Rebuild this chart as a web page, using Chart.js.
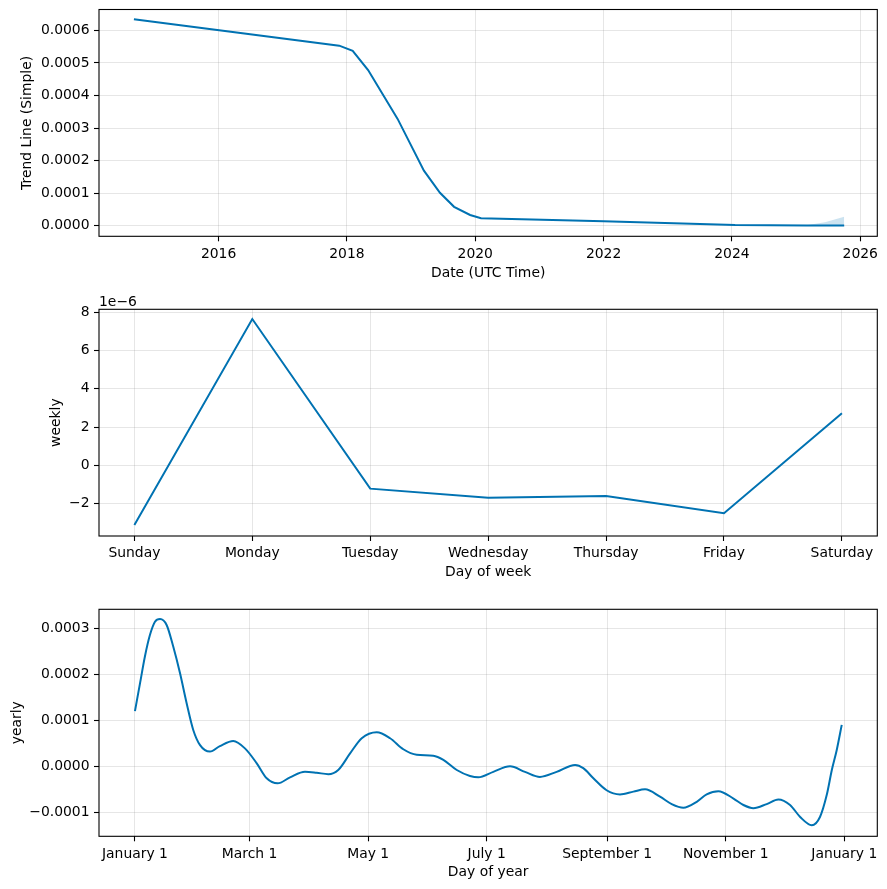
<!DOCTYPE html>
<html><head><meta charset="utf-8">
<script src="https://cdn.jsdelivr.net/npm/chart.js@4"></script>
<style>
html,body{margin:0;padding:0;background:#fff;}
#wrap{position:relative;width:887px;height:889px;overflow:hidden;}
canvas{position:absolute;left:0;}
</style></head><body>
<div id="wrap">
<canvas id="c1" width="887" height="296" style="top:0px"></canvas>
<canvas id="c2" width="887" height="296" style="top:296px"></canvas>
<canvas id="c3" width="887" height="297" style="top:592px"></canvas>
</div>
<script>
// ---- Panel 1: trend ----
const trendYears  = [2014.68, 2017.88, 2018.09, 2018.33, 2018.79, 2019.20, 2019.45, 2019.67, 2019.92, 2020.09, 2022.00, 2024.05, 2025.16, 2025.45, 2025.75];
const trendValues = [0.000634, 0.000553, 0.000537, 0.000478, 0.000328, 0.000169, 0.000101, 0.000058, 0.000033, 0.0000227, 0.0000135, 0.0000020, 0.0000010, 0.0000008, 0.0000008];
const trendUpper  = [0.000634, 0.000553, 0.000537, 0.000478, 0.000328, 0.000169, 0.000101, 0.000058, 0.000033, 0.0000230, 0.0000145, 0.0000026, 0.0000016, 0.0000110, 0.0000276];
const trendLower  = [0.000634, 0.000553, 0.000537, 0.000478, 0.000328, 0.000169, 0.000101, 0.000058, 0.000033, 0.0000224, 0.0000125, 0.0000014, 0.0000004, -0.0000005, -0.0000010];
const trendXTicks = [2016, 2018, 2020, 2022, 2024, 2026];
const trendYTicks = [0, 0.0001, 0.0002, 0.0003, 0.0004, 0.0005, 0.0006];

// ---- Panel 2: weekly ----
const weekDays     = ['Sunday', 'Monday', 'Tuesday', 'Wednesday', 'Thursday', 'Friday', 'Saturday'];
const weeklyValues = [-3.12e-6, 7.65e-6, -1.22e-6, -1.69e-6, -1.60e-6, -2.51e-6, 2.72e-6];
const weeklyYTicks = [-2e-6, 0, 2e-6, 4e-6, 6e-6, 8e-6];

// ---- Panel 3: yearly ----
const yearDays = [0, 2.6, 5.1, 7.7, 10.3, 12.9, 16.3, 19.7, 23.2, 26.6,
  30, 33.5, 38.6, 43.7, 50.6, 56.6, 62.6, 67.8, 73.4, 79.8,
  87.5, 93.5, 99.5, 104.6, 110.7, 116.7, 124.4, 131.3, 138.1, 145,
  153.5, 158.7, 165.6, 172.4, 176.7, 184.4, 193, 200.7, 208.4, 217,
  226.5, 230.7, 235.9, 242.7, 249.6, 256.5, 262.5, 270.2, 276.2, 282.2,
  289.1, 294.2, 300.2, 308, 313.1, 318.2, 325.1, 331.1, 337.1, 342.3,
  348.3, 352.5, 356, 358.6, 361.1, 363.7];
const yearlyValues = [1.20e-4, 1.80e-4, 2.38e-4, 2.85e-4, 3.14e-4, 3.20e-4, 3.07e-4, 2.60e-4, 2.02e-4, 1.37e-4,
  0.79e-4, 0.46e-4, 0.32e-4, 0.44e-4, 0.55e-4, 0.39e-4, 0.07e-4, -0.26e-4, -0.37e-4, -0.24e-4,
  -0.12e-4, -0.14e-4, -0.17e-4, -0.08e-4, 0.28e-4, 0.61e-4, 0.74e-4, 0.61e-4, 0.37e-4, 0.25e-4,
  0.23e-4, 0.14e-4, -0.08e-4, -0.21e-4, -0.24e-4, -0.12e-4, 0.00e-4, -0.12e-4, -0.23e-4, -0.12e-4,
  0.03e-4, -0.04e-4, -0.26e-4, -0.52e-4, -0.61e-4, -0.55e-4, -0.50e-4, -0.66e-4, -0.82e-4, -0.90e-4,
  -0.77e-4, -0.61e-4, -0.54e-4, -0.70e-4, -0.84e-4, -0.91e-4, -0.82e-4, -0.72e-4, -0.84e-4, -1.10e-4,
  -1.28e-4, -1.10e-4, -0.62e-4, -0.08e-4, 0.35e-4, 0.90e-4];
const yearXTicks  = [0, 59, 120, 181, 243, 304, 365];
const yearXLabels = ['January 1', 'March 1', 'May 1', 'July 1', 'September 1', 'November 1', 'January 1'];
const yearlyYTicks = [-0.0001, 0, 0.0001, 0.0002, 0.0003];

const BLUE = '#0072B2';
const FONT = {family: "'DejaVu Sans', sans-serif", size: 13.9};
const minus = s => s.replace('-', '\u2212');

const framePlugin = {
  id: 'frame',
  afterDraw(chart, args, opts) {
    const {ctx, chartArea: a} = chart;
    ctx.save();
    ctx.strokeStyle = '#000';
    ctx.lineWidth = 1.1;
    ctx.strokeRect(a.left, a.top, a.right - a.left, a.bottom - a.top);
    if (opts && opts.offsetText) {
      ctx.fillStyle = '#000';
      ctx.font = "13.9px 'DejaVu Sans', sans-serif";
      ctx.textAlign = 'left';
      ctx.textBaseline = 'alphabetic';
      ctx.fillText(opts.offsetText, a.left, a.top - 3);
    }
    ctx.restore();
  }
};

function makeChart(id, p) {
  return new Chart(document.getElementById(id), {
    type: 'line',
    data: {datasets: p.datasets},
    plugins: [framePlugin],
    options: {
      responsive: false,
      animation: false,
      devicePixelRatio: 1,
      layout: {padding: {top: p.top, right: 9.7, left: 0, bottom: 0}},
      plugins: {legend: {display: false}, tooltip: {enabled: false}, frame: {offsetText: p.offsetText}},
      elements: {point: {radius: 0}},
      scales: {
        x: {
          type: 'linear', min: p.xMin, max: p.xMax,
          afterBuildTicks: s => { s.ticks = p.xTicks.map(v => ({value: v})); },
          afterFit: s => { s.height = p.xAxisH; s.paddingLeft = 0; s.paddingRight = 0; },
          grid: {color: 'rgba(128,128,128,0.2)', lineWidth: 1, tickColor: '#000', tickLength: 5, tickWidth: 1.1},
          border: {display: false},
          ticks: {font: FONT, color: '#000', padding: 4.5, maxRotation: 0, autoSkip: false, callback: p.xLabel},
          title: {display: true, text: p.xTitle, font: FONT, color: '#000', padding: {top: 0, bottom: p.xTitlePad}}
        },
        y: {
          type: 'linear', min: p.yMin, max: p.yMax,
          afterBuildTicks: s => { s.ticks = p.yTicks.map(v => ({value: v})); },
          afterFit: s => { s.width = 99; s.paddingTop = 0; s.paddingBottom = 0; },
          grid: {color: 'rgba(128,128,128,0.2)', lineWidth: 1, tickColor: '#000', tickLength: 5, tickWidth: 1.1},
          border: {display: false},
          ticks: {font: FONT, color: '#000', padding: 4.5, autoSkip: false, callback: p.yLabel},
          title: {display: true, text: p.yTitle, font: FONT, color: '#000', padding: {top: p.yTitlePad, bottom: 0}}
        }
      }
    }
  });
}

// Panel 1
makeChart('c1', {
  top: 9.5, xAxisH: 59.7,
  xMin: 2014.136, xMax: 2026.266, yMin: -0.0000325, yMax: 0.000664,
  xTicks: trendXTicks, yTicks: trendYTicks,
  xLabel: v => String(v), yLabel: v => minus(v.toFixed(4)),
  xTitle: 'Date (UTC Time)', xTitlePad: 14.5, yTitle: 'Trend Line (Simple)', yTitlePad: 19.4,
  datasets: [
    {data: trendYears.map((x, i) => ({x, y: trendValues[i]})), borderColor: BLUE, borderWidth: 2, fill: false, tension: 0},
    {data: trendYears.map((x, i) => ({x, y: trendUpper[i]})), borderWidth: 0, borderColor: 'rgba(0,0,0,0)', backgroundColor: 'rgba(0,114,178,0.2)', fill: '+1', tension: 0},
    {data: trendYears.map((x, i) => ({x, y: trendLower[i]})), borderWidth: 0, borderColor: 'rgba(0,0,0,0)', fill: false, tension: 0}
  ]
});

// Panel 2
makeChart('c2', {
  top: 13.3, xAxisH: 56,
  xMin: -0.3, xMax: 6.3, yMin: -3.696e-6, yMax: 8.157e-6,
  xTicks: weekDays.map((d, i) => i), yTicks: weeklyYTicks,
  xLabel: v => weekDays[Math.round(v)], yLabel: v => minus(String(Math.round(v * 1e6))),
  xTitle: 'Day of week', xTitlePad: 11.5, yTitle: 'weekly', yTitlePad: 47.7,
  offsetText: '1e\u22126',
  datasets: [
    {data: weekDays.map((d, i) => ({x: i, y: weeklyValues[i]})), borderColor: BLUE, borderWidth: 2, fill: false, tension: 0}
  ]
});

// Panel 3
makeChart('c3', {
  top: 17.3, xAxisH: 52.7,
  xMin: -18.5, xMax: 382, yMin: -0.000152, yMax: 0.000341,
  xTicks: yearXTicks, yTicks: yearlyYTicks,
  xLabel: (v, i) => yearXLabels[i], yLabel: v => minus(v.toFixed(4)),
  xTitle: 'Day of year', xTitlePad: 8, yTitle: 'yearly', yTitlePad: 9,
  datasets: [
    {data: yearDays.map((x, i) => ({x, y: yearlyValues[i]})), borderColor: BLUE, borderWidth: 2, fill: false, cubicInterpolationMode: 'monotone'}
  ]
});
</script>
</body></html>
